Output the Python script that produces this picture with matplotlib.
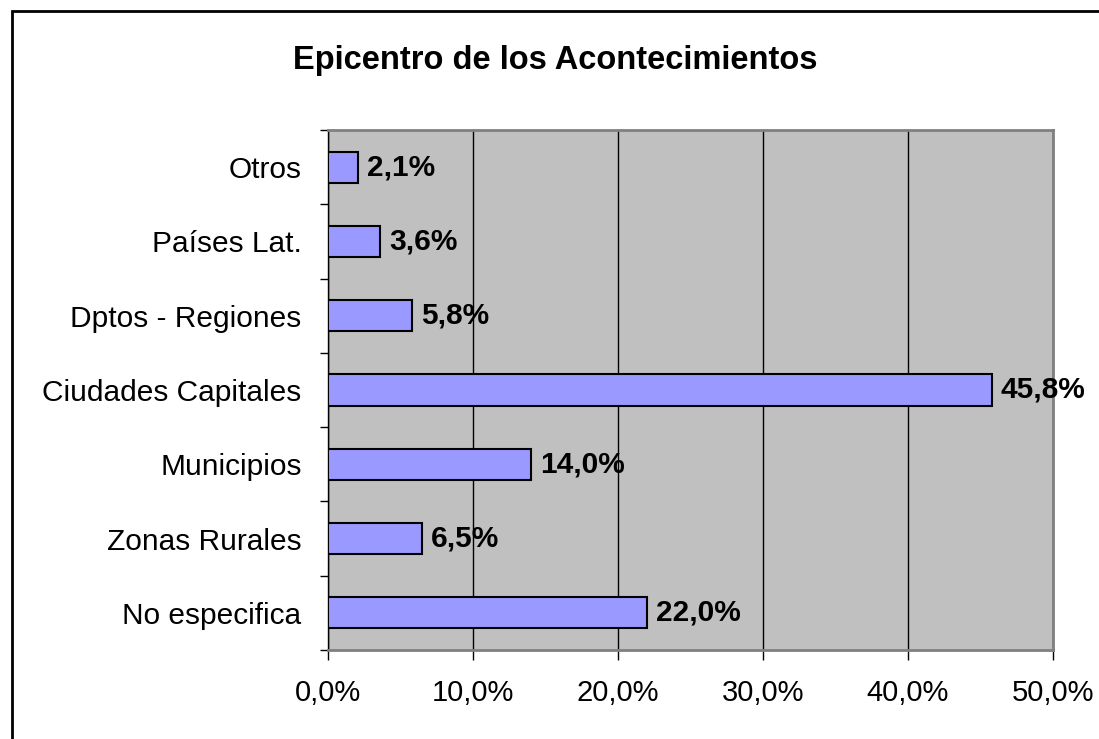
import numpy as np
import matplotlib.pyplot as plt
from matplotlib.patches import Rectangle

plt.rcParams['font.family'] = ['Liberation Sans', 'DejaVu Sans']

categorias = ['No especifica', 'Zonas Rurales', 'Municipios', 'Ciudades Capitales',
              'Dptos - Regiones', 'Países Lat.', 'Otros']
valores = [22.0, 6.5, 14.0, 45.8, 5.8, 3.6, 2.1]
xticks = [0, 10, 20, 30, 40, 50]

fig = plt.figure(figsize=(10.99, 7.39), dpi=100)
fig.patches.append(Rectangle((12 / 1099, -0.1), 1.2, 1 - 11 / 739 + 0.1,
                             transform=fig.transFigure, fill=False,
                             edgecolor='black', linewidth=2))
ax = fig.add_axes([328 / 1099, 89 / 739, 725 / 1099, 520 / 739])
ax.set_facecolor('#C0C0C0')

y = np.arange(len(categorias))
ax.barh(y, valores, height=0.42, color='#9999FF', edgecolor='black', linewidth=1.5, zorder=3)
for yi, v in zip(y, valores):
    ax.text(v + 0.6, yi, f'{v:.1f}%'.replace('.', ','), va='center', ha='left',
            fontsize=21.5, fontweight='bold', zorder=4, clip_on=False)

ax.set_xlim(0, 50)
ax.set_ylim(-0.5, len(categorias) - 0.5)
ax.set_xticks(xticks)
ax.set_xticklabels([f'{t:.1f}%'.replace('.', ',') for t in xticks], fontsize=21)
ax.set_yticks(y)
ax.set_yticklabels(categorias, fontsize=21.5)
ax.set_yticks(np.arange(-0.5, len(categorias)), minor=True)
ax.tick_params(axis='y', which='major', length=0, pad=19)
ax.tick_params(axis='y', which='minor', length=6, width=1, direction='out')
ax.tick_params(axis='x', length=7, width=1, direction='out', pad=14)
ax.xaxis.grid(True, color='black', linewidth=1, zorder=0)
ax.set_axisbelow(True)

for s in ['top', 'right', 'bottom']:
    ax.spines[s].set_color('#808080')
    ax.spines[s].set_linewidth(2)
ax.spines['left'].set_color('black')
ax.spines['left'].set_linewidth(1)

fig.text(555 / 1099, 1 - 60 / 739, 'Epicentro de los Acontecimientos', ha='center',
         va='center', fontsize=23.5, fontweight='bold')

fig.savefig('out.png', dpi=100)
